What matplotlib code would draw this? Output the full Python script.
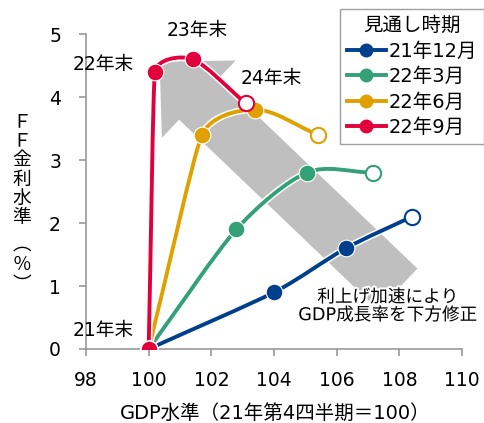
import numpy as np
import matplotlib
matplotlib.use("Agg")
import matplotlib.pyplot as plt
from matplotlib.path import Path
from matplotlib.patches import PathPatch
import matplotlib.patheffects as pe

plt.rcParams['font.family'] = ['DejaVu Sans', 'Noto Sans CJK JP']

# forecast vintages: GDP level (21Q4=100) vs FF rate (%), end of 21/22/23/24
series_names = ['21年12月', '22年3月', '22年6月', '22年9月']
colors = ['#003f8c', '#34a077', '#e0a000', '#e2003c']
gdp_dec21 = [100.0, 104.0, 106.3, 108.4]
ff_dec21 = [0.0, 0.9, 1.6, 2.1]
gdp_mar22 = [100.0, 102.8, 105.05, 107.15]
ff_mar22 = [0.0, 1.9, 2.8, 2.8]
gdp_jun22 = [100.0, 101.7, 103.4, 105.4]
ff_jun22 = [0.0, 3.4, 3.8, 3.4]
gdp_sep22 = [100.0, 100.2, 101.4, 103.1]
ff_sep22 = [0.0, 4.4, 4.6, 3.9]

year_labels = ['21年末', '22年末', '23年末', '24年末']
year_label_pos = [(98.56, 0.29), (98.56, 4.51), (101.56, 5.06), (103.9, 4.29)]
arrow_tail = (107.95, 0.95)
arrow_tip = (100.35, 4.56)
note = '利上げ加速により\nGDP成長率を下方修正'
note_pos = (107.63, 0.68)

xs = [gdp_dec21, gdp_mar22, gdp_jun22, gdp_sep22]
ys = [ff_dec21, ff_mar22, ff_jun22, ff_sep22]

fig = plt.figure(figsize=(4.85, 4.23), dpi=100)
ax = fig.add_axes([86/485, 1-349/423, (462-86)/485, (349-34)/423])
ax.set_xlim(98, 110)
ax.set_ylim(0, 5)


def smooth_path(x, y):
    # excel-like smoothed line, computed in screen space
    pts = ax.transData.transform(np.column_stack([x, y]))
    n = len(pts)
    seg = [np.hypot(*(pts[i+1] - pts[i])) for i in range(n - 1)]
    verts = [pts[0]]
    codes = [Path.MOVETO]
    for i in range(n - 1):
        p1, p2 = pts[i], pts[i+1]
        p0 = pts[i-1] if i > 0 else pts[i]
        p3 = pts[i+2] if i + 2 < n else pts[i+1]
        h1 = min(seg[i], seg[i-1]) / 3 if i > 0 else seg[i] / 3
        h2 = min(seg[i], seg[i+1]) / 3 if i + 1 < n - 1 else seg[i] / 3
        d1 = p2 - p0
        d1 = d1 / np.hypot(*d1)
        d2 = p3 - p1
        d2 = d2 / np.hypot(*d2)
        verts += [p1 + d1*h1, p2 - d2*h2, p2]
        codes += [Path.CURVE4]*3
    return Path(ax.transData.inverted().transform(np.array(verts)), codes)


# big grey arrow
ax.annotate('', xy=arrow_tip, xytext=arrow_tail,
            arrowprops=dict(arrowstyle='simple,head_length=3.9,head_width=7.7,tail_width=4.1',
                            mutation_scale=10, fc='#bfbfbf', ec='none',
                            shrinkA=0, shrinkB=0), zorder=1)

halo = [pe.Stroke(linewidth=5, foreground='white'), pe.Normal()]
handles = []
for x, y, c, name in zip(xs, ys, colors, series_names):
    p = PathPatch(smooth_path(x, y), fill=False, ec=c, lw=2.8, zorder=3,
                  capstyle='round', path_effects=halo)
    ax.add_patch(p)
    ax.plot(x[:-1], y[:-1], 'o', ms=12, mfc=c, mec='white', mew=0.8, zorder=4)
    ax.plot(x[-1], y[-1], 'o', ms=11, mfc='white', mec=c, mew=1.5, zorder=4)
    h, = ax.plot([], [], '-o', color=c, lw=2.8, ms=9, label=name)
    handles.append(h)
# start point drawn last in red
ax.plot(gdp_sep22[0], ff_sep22[0], 'o', ms=12, mfc=colors[3], mec='white', mew=0.8, zorder=5)

for t, (px, py) in zip(year_labels, year_label_pos):
    ax.text(px, py, t, ha='center', va='center', fontsize=13.5, zorder=6)

ax.text(note_pos[0], note_pos[1], note, ha='center', va='center', fontsize=12.7,
        linespacing=1.0, zorder=6,
        path_effects=[pe.withStroke(linewidth=3, foreground='white')])

for s in ['top', 'right']:
    ax.spines[s].set_visible(False)
for s in ['left', 'bottom']:
    ax.spines[s].set_color('#999999')
    ax.spines[s].set_linewidth(1.2)
ax.set_xticks(range(98, 111, 2))
ax.set_yticks(range(0, 6))
ax.tick_params(axis='y', length=5, width=1.2, color='#999999', pad=13, labelsize=13.5)
ax.tick_params(axis='x', length=5, width=1.2, color='#999999', pad=11, labelsize=13.5)

fig.text(275/485, 1-413/423, 'GDP水準（21年第4四半期＝100）', ha='center', va='center', fontsize=14)

ylab_chars = ['Ｆ', 'Ｆ', '金', '利', '水', '準', '︵', '％', '︶']
ylab_y = [122, 141, 160, 179, 198, 217, 244, 264, 284]
for ch, py in zip(ylab_chars, ylab_y):
    fig.text(22/485, 1-py/423, ch, ha='center', va='center', fontsize=13.5)

leg = ax.legend(handles=handles, title='見通し時期', loc='upper right',
                bbox_to_anchor=(484/485, 1-9/423), bbox_transform=fig.transFigure,
                fontsize=14, title_fontsize=14, frameon=True, fancybox=False,
                handlelength=2.0, handletextpad=0.15, labelspacing=0.34,
                borderpad=0.35, borderaxespad=0)
leg.get_frame().set_edgecolor('#888888')
leg.get_frame().set_linewidth(1.0)

fig.savefig('out.png', dpi=100)
